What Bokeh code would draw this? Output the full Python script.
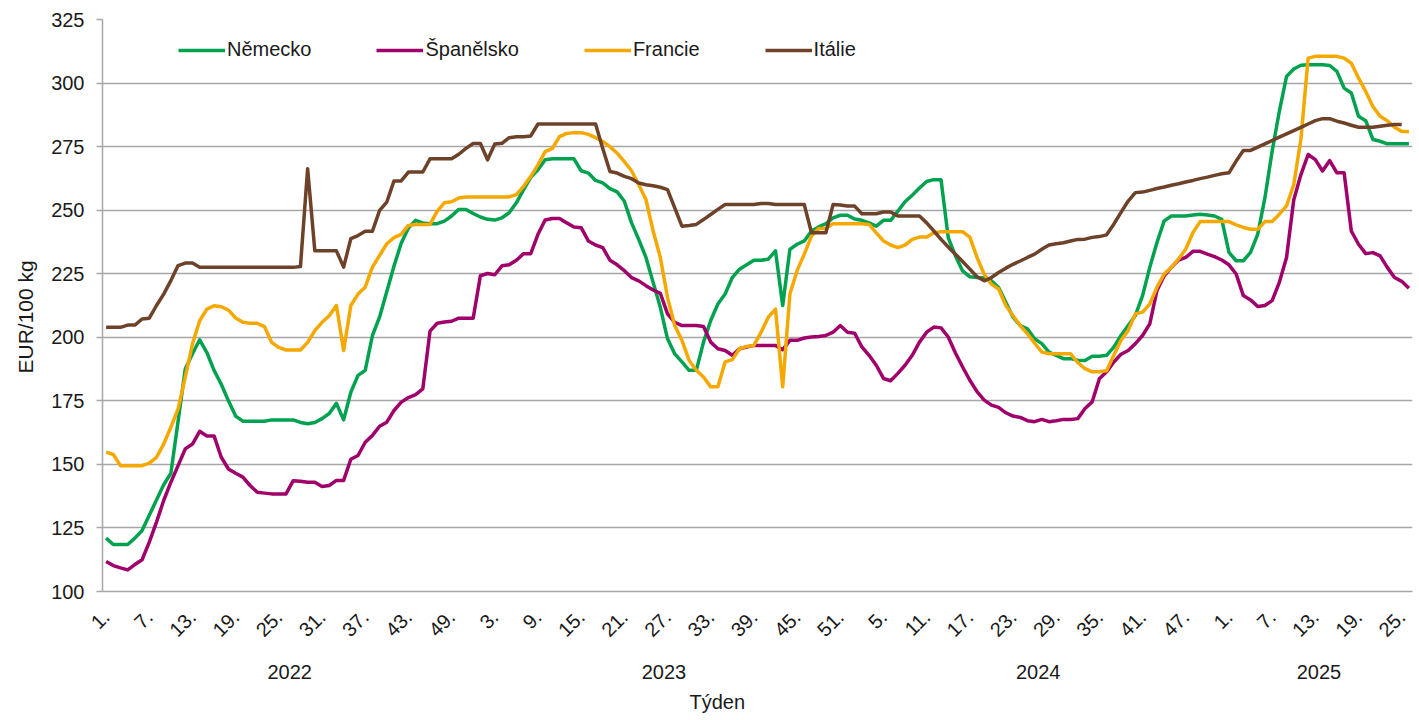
import math
from bokeh.plotting import figure
from bokeh.models import Range1d, FixedTicker, LinearAxis, Legend, LegendItem, Grid, Title
from bokeh.embed import file_html
from bokeh.resources import INLINE

NAN = float("nan")

# weekly prices, 2022 wk1 .. 2025 wk26 (EUR/100 kg)
nemecko = [121, 118.5, 118.5, 118.5, 121, 124, 130, 136, 142, 146.5,
           167, 187.5, 193.5, 199, 194, 187, 181.5, 175, 169, 167,
           167, 167, 167, 167.5, 167.5, 167.5, 167.5, 166.5, 166, 166.5,
           168, 170, 174, 167.5, 178.4, 185, 187, 200.7, 208, 218,
           228, 237, 243, 246, 245, 244.7, 244.7, 245.7, 247.7, 250.3,
           250.3, 248.7, 247.3, 246.4, 246.1, 247, 249, 252.9, 258.1, 262.9,
           265.9, 269.8, 270.2, 270.2, 270.2, 270.2, 265.5, 264.6, 261.7, 260.7,
           258.5, 257.2, 253.5, 245, 238.5, 231.4, 221.6, 211.8, 199.4, 193.5,
           190.3, 187, 187, 198.1, 206.6, 213.1, 217, 223.5, 226.8, 228.5,
           230.3, 230.3, 230.7, 234, 212.5, 234.6, 236.6, 237.9, 241.8, 243.4,
           244.7, 247, 248, 248, 246.5, 246, 245, 243.7, 246, 246,
           249.6, 253.3, 255.9, 258.7, 261.3, 262, 262, 239.2, 232, 226.1,
           223.8, 223.5, 223.3, 222.2, 219.6, 213.8, 207.9, 204.6, 203.3, 199.4,
           197.5, 194.2, 192.9, 191.6, 191.6, 191, 190.9, 192.5, 192.5, 192.9,
           196.1, 200.7, 204.6, 208.6, 216.4, 227.5, 237.3, 245.8, 247.7, 247.7,
           247.7, 248.1, 248.4, 248.1, 247.7, 246.4, 233.4, 230.1, 230.1, 233.4,
           240.6, 254.9, 273.2, 288.9, 302.6, 305.5, 307, 307.2, 307.2, 307.2,
           306.9, 304.6, 298, 296.1, 286.9, 285.2, 277.8, 277.1, 276.1, 276.1,
           276.1, 276.1]

spanelsko = [111.8, 110.2, 109.3, 108.5, 110.6, 112.5, 119.4, 127.3, 135.8, 143,
             149.5, 156.1, 158, 163, 161.2, 161.2, 152.8, 148.2, 146.5, 145,
             141.7, 139, 138.7, 138.4, 138.4, 138.4, 143.6, 143.4, 143, 143,
             141.3, 141.7, 143.7, 143.7, 152, 153.5, 158.7, 161.4, 165, 166.6,
             171.2, 174.5, 176.3, 177.4, 179.7, 202.4, 205.5, 206, 206.3, 207.5,
             207.5, 207.5, 224.2, 225.1, 224.6, 228.1, 228.5, 230.3, 232.9, 232.9,
             240.5, 246.1, 246.7, 246.7, 245, 243.4, 243.1, 237.9, 236.3, 235.3,
             230.3, 228.5, 226.2, 223.5, 222.2, 220.3, 218.6, 217.3, 209.2, 205.9,
             204.6, 204.6, 204.6, 204.2, 198.1, 195.5, 194.8, 192.9, 195.5, 196.2,
             196.8, 196.8, 196.8, 196.8, 195.1, 198.8, 198.8, 199.7, 200.1, 200.3,
             200.7, 202, 204.6, 202, 201.6, 196.2, 192.9, 189, 183.8, 182.9,
             185.8, 189, 192.9, 198.1, 202, 204, 203.7, 200.1, 193.8, 188.3,
             183.1, 178.6, 175.3, 173.3, 172.4, 170.3, 169, 168.5, 167.2, 166.8,
             167.7, 166.8, 167.2, 167.7, 167.7, 168, 172, 174.6, 183.7, 186.4,
             190.3, 193.3, 194.8, 197.5, 200.7, 205.3, 218.4, 224.2, 227.5, 230.4,
             231.4, 233.8, 233.8, 232.7, 231.7, 230.4, 228.5, 224.9, 216.4, 214.7,
             212.1, 212.5, 214.4, 221.6, 231.4, 254, 264, 271.9, 269.9, 265.4,
             269.5, 264.7, 264.7, 241.8, 236.6, 232.9, 233.3, 232, 227.5, 223.5,
             222, 219.3]

francie = [154.8, 153.9, 149.5, 149.5, 149.5, 149.5, 150.5, 152.8, 158, 164.6,
           171.8, 184.3, 197.4, 206.5, 211.1, 212.4, 212, 210.7, 207.6, 205.9,
           205.5, 205.5, 204.2, 198, 196, 195, 195, 195, 198, 202.6,
           205.9, 208.5, 212.5, 194.8, 212.5, 217, 219.7, 227.6, 232.2, 236.8,
           239.2, 240.5, 244, 244.4, 244.4, 244.4, 249.6, 252.9, 253.3, 254.8,
           255.2, 255.2, 255.2, 255.2, 255.2, 255.2, 255.2, 256.1, 259.4, 263.3,
           267.8, 273, 274.3, 278.9, 280.2, 280.5, 280.5, 279.8, 278.5, 277,
           275, 272.4, 269.1, 265.5, 260, 254.2, 241.8, 231.4, 215.7, 204.6,
           198.8, 190.9, 187, 184.4, 180.5, 180.5, 190.3, 191.2, 195.5, 196.4,
           196.8, 202, 207.9, 211.1, 180.5, 217, 226.2, 232.7, 239.8, 242.8,
           242.8, 244.7, 244.7, 244.7, 244.7, 244.7, 244.4, 241.1, 237.9, 236.3,
           235.3, 236.3, 238.5, 239.4, 239.4, 241.1, 241.5, 241.5, 241.5, 241.5,
           239.4, 231.4, 224.8, 220.9, 219, 212.5, 208.5, 204.6, 201.4, 197.7,
           194.2, 193.5, 193.5, 193.5, 193.5, 190, 187.7, 186.4, 186.4, 186.8,
           192.9, 198.8, 202.7, 209.2, 209.9, 213.1, 219.7, 224.9, 227.5, 230.8,
           234.7, 241.2, 245.5, 245.5, 245.5, 245.5, 245.5, 244.2, 243.2, 242.5,
           242.5, 245.5, 245.5, 248.4, 251.7, 260, 278, 309.8, 310.5, 310.5,
           310.5, 310.5, 309.8, 307.8, 302, 296.7, 290.8, 286.9, 285.2, 282.6,
           281, 280.8]

italie = [203.9, 203.9, 203.9, 204.8, 204.8, 207.2, 207.5, 212.5, 217, 222.3,
          228.2, 229.2, 229.2, 227.5, 227.5, 227.5, 227.5, 227.5, 227.5, 227.5,
          227.5, 227.5, 227.5, 227.5, 227.5, 227.5, 227.5, 227.8, 266.3, 234,
          234, 234, 234, 227.6, 238.8, 240, 241.7, 241.7, 249.9, 253.2,
          261.5, 261.5, 265, 265, 265, 270.2, 270.2, 270.2, 270.2, 272,
          274.3, 276.2, 276.2, 269.8, 276, 276.3, 278.5, 278.9, 278.9, 279.2,
          283.9, 283.9, 283.9, 283.9, 283.9, 283.9, 283.9, 283.9, 283.9, 274.3,
          265.2, 264.6, 263.3, 262.4, 260.7, 260, 259.6, 259, 258.1, 250.9,
          243.7, 244, 244.4, 246.3, 248.3, 250.3, 252.2, 252.2, 252.2, 252.2,
          252.2, 252.6, 252.6, 252.2, 252.2, 252.2, 252.2, 252.2, 241.1, 241.1,
          241.1, 252.2, 252, 251.6, 251.6, 248.6, 248.6, 248.6, 249.3, 249.3,
          247.7, 247.7, 247.7, 247.7, 245, 241.8, 238.5, 235.5, 232.7, 229.8,
          226.8, 223.8, 222.2, 223.5, 225.5, 227.2, 228.7, 230, 231.4, 232.7,
          234.6, 236.3, 236.8, 237.2, 237.9, 238.5, 238.6, 239.3, 239.6, 240.3,
          244.5, 249.1, 253.6, 256.9, 257.1, 257.8, 258.5, 259.1, 259.8, 260.4,
          261.1, 261.7, 262.4, 263, 263.7, 264.3, 264.7, 269.3, 273.5, 273.5,
          274.8, 276.1, 277.4, 278.7, 280, 281.3, 282.6, 283.9, 285.2, 286,
          286, 285, 284.3, 283.4, 282.6, 282.6, 282.6, 283, 283.4, 283.7,
          283.7, NAN]

years = ["2022", "2023", "2024", "2025"]
weeks_in_year = [52, 52, 52, 26]
series_names = ["Německo", "Španělsko", "Francie", "Itálie"]
series_colors = ["#00a24f", "#a0006a", "#f5a800", "#6e4129"]
y_ticks = [100, 125, 150, 175, 200, 225, 250, 275, 300, 325]
y_title = "EUR/100 kg"
x_title = "Týden"

# category index and week labels
week_no = []
for yr, n in zip(years, weeks_in_year):
    for w in range(1, n + 1):
        week_no.append(w)
idx = list(range(len(week_no)))

FONT = "Liberation Sans"
TXT = "#1a1a1a"
GRID = "#a6a6a6"

p = figure(width=1416, height=720, output_backend="svg", toolbar_location=None,
           x_range=Range1d(-0.5, len(idx) - 0.5), y_range=Range1d(100, 325),
           x_axis_type=None, y_axis_type=None,
           min_border_left=101, min_border_right=4, min_border_top=19, min_border_bottom=129)
p.outline_line_color = None
p.background_fill_color = "white"

# y axis
yaxis = LinearAxis(ticker=FixedTicker(ticks=y_ticks))
yaxis.axis_line_color = GRID
yaxis.axis_line_width = 1.5
yaxis.major_tick_line_color = GRID
yaxis.major_tick_line_width = 1.5
yaxis.major_tick_out = 6
yaxis.major_tick_in = 0
yaxis.minor_tick_line_color = None
yaxis.major_label_standoff = 12
yaxis.major_label_text_font = FONT
yaxis.major_label_text_font_size = "20px"
yaxis.major_label_text_color = TXT
p.add_layout(yaxis, "left")
p.add_layout(Grid(dimension=1, ticker=yaxis.ticker, grid_line_color=GRID, grid_line_width=1.5))

# week axis
wk_ticks = [i for i in idx if i % 6 == 0]
xaxis = LinearAxis(ticker=FixedTicker(ticks=wk_ticks),
                   major_label_overrides={i: f"{week_no[i]}." for i in wk_ticks})
xaxis.axis_line_color = GRID
xaxis.axis_line_width = 1.5
xaxis.major_tick_line_color = None
xaxis.minor_tick_line_color = None
xaxis.major_tick_out = 0
xaxis.major_tick_in = 0
xaxis.major_label_orientation = math.pi / 4
xaxis.major_label_standoff = 22
xaxis.major_label_text_font = FONT
xaxis.major_label_text_font_size = "20px"
xaxis.major_label_text_color = TXT
p.add_layout(xaxis, "below")

# year axis
yr_centers = []
start = 0
for n in weeks_in_year:
    yr_centers.append(start + (n - 1) / 2)
    start += n
yaxis2 = LinearAxis(ticker=FixedTicker(ticks=yr_centers),
                    major_label_overrides={c: y for c, y in zip(yr_centers, years)})
yaxis2.axis_line_color = None
yaxis2.major_tick_line_color = None
yaxis2.minor_tick_line_color = None
yaxis2.major_tick_out = 0
yaxis2.major_label_standoff = 18
yaxis2.major_label_text_font = FONT
yaxis2.major_label_text_font_size = "20px"
yaxis2.major_label_text_color = TXT
p.add_layout(yaxis2, "below")

p.add_layout(Title(text=x_title, align="left", offset=587, standoff=15,
                   text_font=FONT, text_font_size="20px", text_font_style="normal",
                   text_color=TXT), "below")
p.add_layout(Title(text=y_title, align="left", offset=218, standoff=23,
                   text_font=FONT, text_font_size="21px", text_font_style="normal",
                   text_color=TXT), "left")

renderers = []
for name, ys, col in zip(series_names, [nemecko, spanelsko, francie, italie], series_colors):
    r = p.line(idx, ys, line_color=col, line_width=3.5, line_join="round")
    renderers.append(r)

legend = Legend(items=[LegendItem(label=n, renderers=[r]) for n, r in zip(series_names, renderers)],
                orientation="horizontal", location=(76, 530),
                glyph_width=47, glyph_height=20, label_standoff=2, spacing=65,
                padding=0, margin=0, border_line_color=None, background_fill_alpha=0,
                label_text_font=FONT, label_text_font_size="20px", label_text_color=TXT)
p.add_layout(legend)

open("out.html", "w").write(file_html(p, INLINE))
